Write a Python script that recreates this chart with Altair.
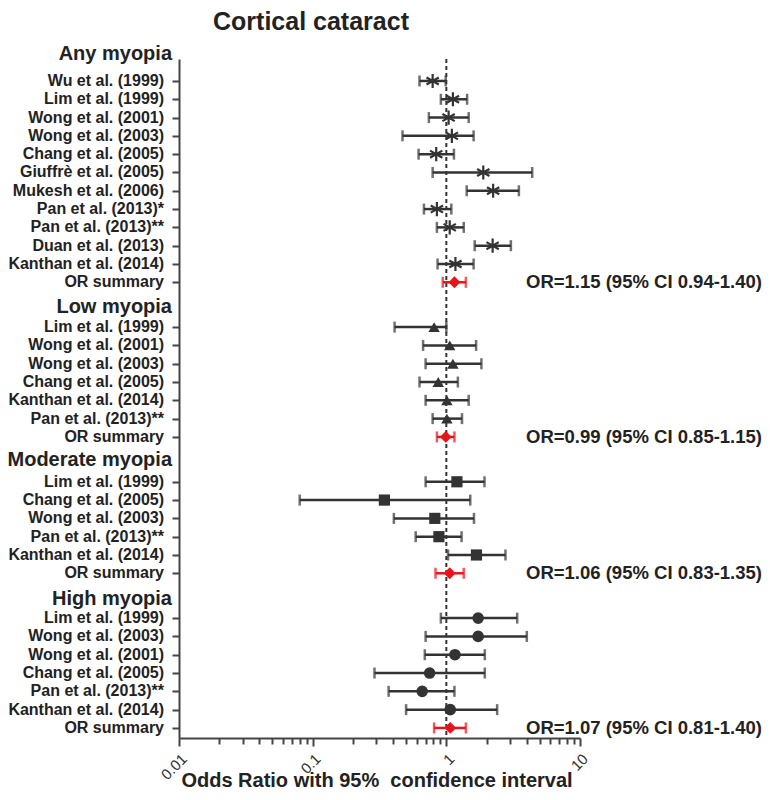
import altair as alt
import pandas as pd

title_text = "Cortical cataract"
x_title = "Odds Ratio with 95%\u00a0 confidence interval"

groups = ["Any myopia", "Low myopia", "Moderate myopia", "High myopia"]

any_labels = ["Wu et al. (1999)", "Lim et al. (1999)", "Wong et al. (2001)", "Wong et al. (2003)",
              "Chang et al. (2005)", "Giuffrè et al. (2005)", "Mukesh et al. (2006)", "Pan et al. (2013)*",
              "Pan et al. (2013)**", "Duan et al. (2013)", "Kanthan et al. (2014)", "OR summary"]
any_or = [0.79, 1.12, 1.04, 1.10, 0.84, 1.89, 2.24, 0.85, 1.06, 2.22, 1.17, 1.15]
any_lo = [0.63, 0.91, 0.74, 0.47, 0.62, 0.79, 1.42, 0.68, 0.85, 1.63, 0.86, 0.94]
any_hi = [0.99, 1.43, 1.47, 1.60, 1.14, 4.39, 3.49, 1.09, 1.35, 3.04, 1.60, 1.40]

low_labels = ["Lim et al. (1999)", "Wong et al. (2001)", "Wong et al. (2003)", "Chang et al. (2005)",
              "Kanthan et al. (2014)", "Pan et al. (2013)**", "OR summary"]
low_or = [0.81, 1.06, 1.12, 0.87, 1.01, 1.01, 0.99]
low_lo = [0.41, 0.67, 0.70, 0.63, 0.70, 0.79, 0.85]
low_hi = [1.00, 1.67, 1.83, 1.22, 1.47, 1.31, 1.15]

mod_labels = ["Lim et al. (1999)", "Chang et al. (2005)", "Wong et al. (2003)", "Pan et al. (2013)**",
              "Kanthan et al. (2014)", "OR summary"]
mod_or = [1.20, 0.344, 0.82, 0.88, 1.68, 1.06]
mod_lo = [0.70, 0.08, 0.405, 0.59, 1.03, 0.83]
mod_hi = [1.93, 1.51, 1.61, 1.30, 2.77, 1.35]

high_labels = ["Lim et al. (1999)", "Wong et al. (2003)", "Wong et al. (2001)", "Chang et al. (2005)",
               "Pan et al. (2013)**", "Kanthan et al. (2014)", "OR summary"]
high_or = [1.73, 1.73, 1.16, 0.75, 0.66, 1.07, 1.07]
high_lo = [0.91, 0.70, 0.69, 0.29, 0.37, 0.50, 0.81]
high_hi = [3.39, 4.00, 1.94, 1.94, 1.15, 2.40, 1.40]

summary_texts = ["OR=1.15 (95% CI 0.94-1.40)", "OR=0.99 (95% CI 0.85-1.15)",
                 "OR=1.06 (95% CI 0.83-1.35)", "OR=1.07 (95% CI 0.81-1.40)"]

x_ticks = [0.01, 0.02, 0.03, 0.04, 0.05, 0.06, 0.07, 0.08, 0.09,
           0.1, 0.2, 0.3, 0.4, 0.5, 0.6, 0.7, 0.8, 0.9,
           1, 2, 3, 4, 5, 6, 7, 8, 9, 10]

# ---- layout (row positions) ----
group_start = [0, 13.45, 21.9, 29.35]
header_pos = [-1.47, 12.35, 20.7, 28.3]

ASTER = "M0,-1L0,1M-0.87,-0.5L0.87,0.5M-0.87,0.5L0.87,-0.5"
markers = [ASTER, "triangle-up", "square", "circle"]
msizes = [200, 130, 125, 135]
kinds = ["aster", "filled", "filled", "filled"]
DARK = "#333333"
RED = "#e8141c"

all_sets = [(any_labels, any_or, any_lo, any_hi), (low_labels, low_or, low_lo, low_hi),
            (mod_labels, mod_or, mod_lo, mod_hi), (high_labels, high_or, high_lo, high_hi)]

rows = []
for gi, (labs, ors, los, his) in enumerate(all_sets):
    for j, lab in enumerate(labs):
        summary = lab == "OR summary"
        rows.append(dict(
            label=lab, pos=group_start[gi] + j, OR=ors[j], lo=los[j], hi=his[j],
            shape="diamond" if summary else markers[gi],
            msize=140 if summary else msizes[gi],
            color=RED if summary else DARK,
            kind="filled" if summary else kinds[gi],
            note=summary_texts[gi] if summary else "",
        ))
df = pd.DataFrame(rows)
hdr = pd.DataFrame({"label": groups, "pos": header_pos})
ref = pd.DataFrame({"v": [1]})

FONT = "Liberation Sans"

xscale = alt.Scale(type="log", domain=[0.01, 10], nice=False)
xaxis = alt.Axis(
    values=x_ticks, format="~g",
    labelExpr="indexof(['0.01','0.1','1','10'], datum.label) >= 0 ? datum.label : ''",
    labelAngle=-45, labelAlign="right", labelBaseline="top", labelFontSize=15,
    labelFontWeight="normal", labelColor="#333", labelPadding=5, labelOverlap=False, labelFlush=False,
    tickSize={"condition": {"test": "indexof([0.01, 0.1, 1, 10], datum.value) >= 0", "value": 8}, "value": 6},
    tickWidth=2, tickColor="#444", domainColor="#444", domainWidth=2, grid=False, title=None,
)
yscale = alt.Scale(domain=[-1.2, 35.9], reverse=True, nice=False, zero=False)
yaxis = alt.Axis(values=df["pos"].tolist(), labels=False, tickSize=7, tickWidth=2, tickColor="#444",
                 domainColor="#444", domainWidth=2, grid=False, title=None)

Y = alt.Y("pos:Q", scale=yscale, axis=yaxis)

base = alt.Chart(df)

refline = alt.Chart(ref).mark_rule(strokeDash=[4, 3], strokeWidth=2, color=DARK).encode(
    x=alt.X("v:Q", scale=xscale, axis=xaxis))

err = base.mark_rule(strokeWidth=2.5).encode(
    x=alt.X("lo:Q", scale=xscale, axis=xaxis), x2="hi:Q", y=Y, color=alt.Color("color:N", scale=None))

cap_lo = base.mark_tick(orient="vertical", size=11, thickness=2.5).encode(
    x=alt.X("lo:Q", scale=xscale, axis=xaxis), y=Y, color=alt.Color("color:N", scale=None))
cap_hi = base.mark_tick(orient="vertical", size=11, thickness=2.5).encode(
    x=alt.X("hi:Q", scale=xscale, axis=xaxis), y=Y, color=alt.Color("color:N", scale=None))

aster = base.transform_filter("datum.kind == 'aster'").mark_point(
    filled=False, strokeWidth=2.2, opacity=1).encode(
    x=alt.X("OR:Q", scale=xscale, axis=xaxis), y=Y,
    shape=alt.Shape("shape:N", scale=None), size=alt.Size("msize:Q", scale=None),
    color=alt.Color("color:N", scale=None))

filled = base.transform_filter("datum.kind == 'filled'").mark_point(
    filled=True, opacity=1).encode(
    x=alt.X("OR:Q", scale=xscale, axis=xaxis), y=Y,
    shape=alt.Shape("shape:N", scale=None), size=alt.Size("msize:Q", scale=None),
    color=alt.Color("color:N", scale=None))

labels = base.mark_text(align="right", baseline="middle", fontSize=16, fontWeight="bold",
                        color="#222", font=FONT).encode(x=alt.value(-15), y=Y, text="label:N")

headers = alt.Chart(hdr).mark_text(align="right", baseline="middle", fontSize=20, fontWeight="bold",
                                   color="#222", font=FONT).encode(x=alt.value(-7), y=Y, text="label:N")

notes = base.transform_filter("datum.note != ''").mark_text(
    align="left", baseline="middle", fontSize=18.5, fontWeight="bold", color="#222", font=FONT).encode(
    x=alt.value(347), y=Y, text="note:N")

title = alt.Chart(pd.DataFrame({"t": [title_text]})).mark_text(
    align="center", baseline="middle", fontSize=25, fontWeight="bold", color="#222", font=FONT).encode(
    x=alt.value(132), y=alt.value(-37), text="t:N")

xtitle = alt.Chart(pd.DataFrame({"t": [x_title]})).mark_text(
    align="center", baseline="middle", fontSize=20, fontWeight="bold", color="#222", font=FONT).encode(
    x=alt.value(198), y=alt.value(722), text="t:N")

chart = alt.layer(refline, err, cap_lo, cap_hi, aster, filled, labels, headers, notes, title, xtitle).properties(
    width=401, height=679,
    autosize=alt.AutoSizeParams(type="none"),
    padding={"left": 171, "top": 51, "right": 182, "bottom": 56},
).configure(font=FONT).configure_view(stroke=None, strokeWidth=0).configure_axis(labelFont=FONT)

chart.save("out.html", embed_options={"renderer": "svg", "actions": False})
